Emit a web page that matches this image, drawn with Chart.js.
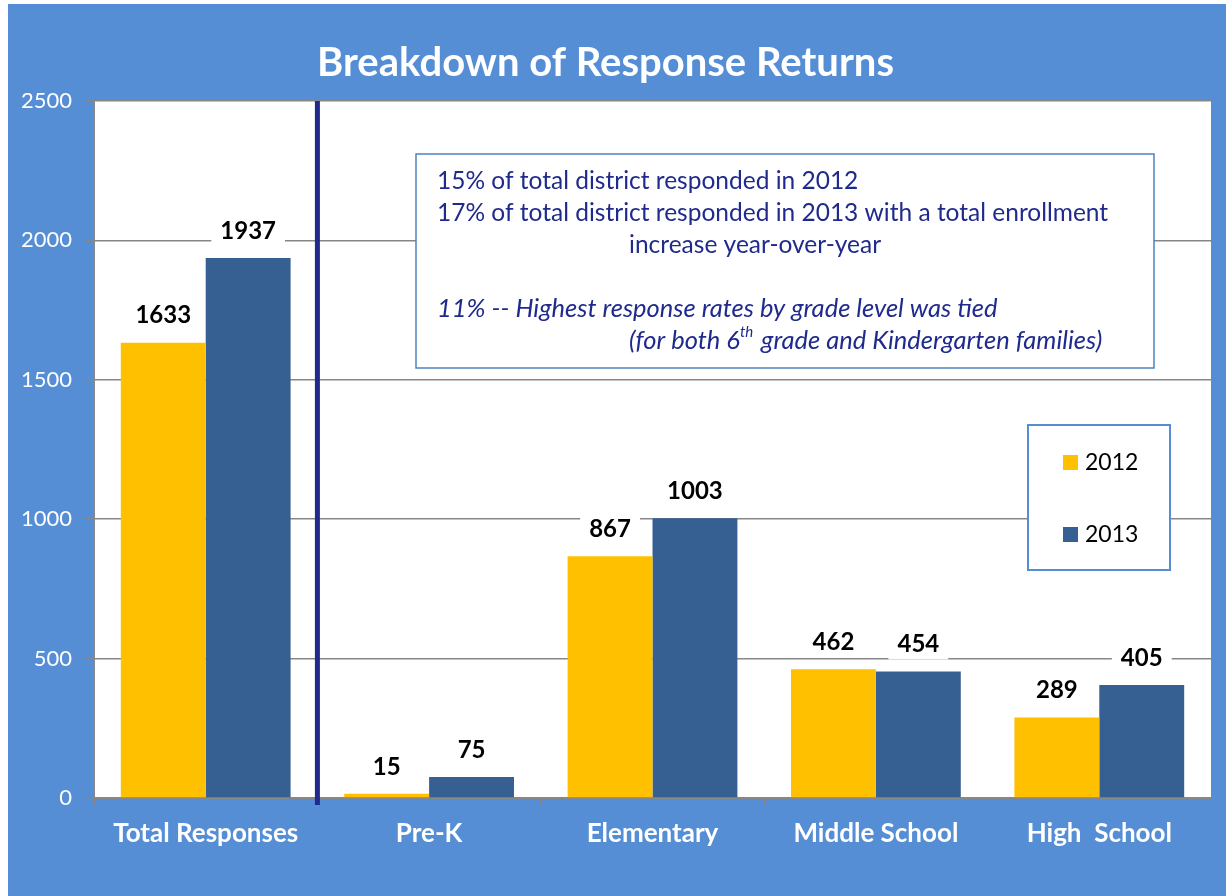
<!DOCTYPE html>
<html>
<head>
<meta charset="utf-8">
<script src="https://cdn.jsdelivr.net/npm/chart.js@4"></script>
<style>
html,body{margin:0;padding:0;background:#ffffff;}
#wrap{width:1226px;height:896px;position:relative;}
</style>
</head>
<body>
<div id="wrap"><canvas id="c" width="1226" height="896"></canvas></div>
<script>
const categories = ["Total Responses", "Pre-K", "Elementary", "Middle School", "High  School"];
const values2012 = [1633, 15, 867, 462, 289];
const values2013 = [1937, 75, 1003, 454, 405];
const seriesLabels = ["2012", "2013"];
const yTicks = [0, 500, 1000, 1500, 2000, 2500];
const chartTitle = "Breakdown of Response Returns";
const noteLines = [
  {text: "15% of total district responded in 2012", italic: false, indent: false},
  {text: "17% of total district responded in 2013 with a total enrollment", italic: false, indent: false},
  {text: "increase year-over-year", italic: false, indent: true},
  {text: "", italic: false, indent: false},
  {text: "11% -- Highest response rates by grade level was tied", italic: true, indent: false},
  {text: "(for both 6|th| grade and Kindergarten families)", italic: true, indent: true}
];

const FONT = "Lato, 'Open Sans', sans-serif";
const BG = "#558ED5";
const YELLOW = "#FFC000";
const BLUE = "#376092";
const NAVY = "#1F2A8C";
const GRID = "#878787";

const decor = {
  id: "decor",
  beforeDraw(chart) {
    const ctx = chart.ctx, a = chart.chartArea;
    ctx.save();
    ctx.fillStyle = "#ffffff";
    ctx.fillRect(0, 0, chart.width, chart.height);
    ctx.fillStyle = BG;
    ctx.fillRect(8, 4, chart.width - 8, chart.height - 4);
    ctx.fillStyle = "#ffffff";
    ctx.fillRect(a.left, a.top, a.right - a.left, a.bottom - a.top);
    ctx.restore();
  },
  afterDraw(chart) {
    const ctx = chart.ctx, a = chart.chartArea;
    const xs = chart.scales.x;
    ctx.save();
    // data labels
    ctx.font = "bold 24px " + FONT;
    ctx.textAlign = "center";
    ctx.textBaseline = "middle";
    chart.data.datasets.forEach((ds, di) => {
      chart.getDatasetMeta(di).data.forEach((bar, i) => {
        const txt = String(ds.data[i]);
        const w = ctx.measureText(txt).width + 18;
        const cy = bar.y - 27;
        ctx.fillStyle = "#ffffff";
        ctx.fillRect(bar.x - w / 2, cy - 15, w, 30);
        ctx.fillStyle = "#000000";
        ctx.fillText(txt, bar.x, cy);
      });
    });
    // vertical separator between first and second category
    const sepX = (xs.getPixelForValue(0) + xs.getPixelForValue(1)) / 2;
    ctx.fillStyle = NAVY;
    ctx.fillRect(sepX - 2.5, a.top, 5, a.bottom - a.top + 7);

    // annotation box
    const bx = 416, by = 154, bw = 738, bh = 214;
    ctx.fillStyle = "#ffffff";
    ctx.fillRect(bx, by, bw, bh);
    ctx.strokeStyle = "#4F81BD";
    ctx.lineWidth = 1.5;
    ctx.strokeRect(bx, by, bw, bh);
    ctx.textAlign = "left";
    ctx.textBaseline = "middle";
    ctx.fillStyle = "#1F2A8C";
    noteLines.forEach((ln, k) => {
      if (!ln.text) return;
      const y = 181 + k * 32;
      let x = ln.indent ? 629 : 437;
      const style = ln.italic ? "italic " : "";
      const size = ln.italic ? 25.5 : 24.5;
      const parts = ln.text.split("|");
      parts.forEach((p, pi) => {
        if (pi % 2 === 1) {
          ctx.font = style + "15px " + FONT;
          ctx.fillText(p, x, y - 9);
          x += ctx.measureText(p).width + 2;
        } else {
          ctx.font = style + size + "px " + FONT;
          ctx.fillText(p, x, y);
          x += ctx.measureText(p).width;
        }
      });
    });

    // legend box
    const lx = 1028, ly = 425, lw = 142, lh = 145;
    ctx.fillStyle = "#ffffff";
    ctx.fillRect(lx, ly, lw, lh);
    ctx.strokeStyle = "#558ED5";
    ctx.lineWidth = 2;
    ctx.strokeRect(lx, ly, lw, lh);
    ctx.font = "23px " + FONT;
    chart.data.datasets.forEach((ds, di) => {
      const cy = 462 + di * 72;
      ctx.fillStyle = ds.backgroundColor;
      ctx.fillRect(1063, cy - 7, 15, 15);
      ctx.fillStyle = "#000000";
      ctx.fillText(ds.label, 1085, cy + 1);
    });
    ctx.restore();
  }
};

new Chart(document.getElementById("c"), {
  type: "bar",
  data: {
    labels: categories,
    datasets: [
      {label: seriesLabels[0], data: values2012, backgroundColor: YELLOW, categoryPercentage: 0.76, barPercentage: 1.0},
      {label: seriesLabels[1], data: values2013, backgroundColor: BLUE, categoryPercentage: 0.76, barPercentage: 1.0}
    ]
  },
  options: {
    responsive: false,
    animation: false,
    devicePixelRatio: 1,
    layout: {padding: {left: 0, right: 15, top: 0, bottom: 0}},
    plugins: {
      legend: {display: false},
      tooltip: {enabled: false},
      title: {
        display: true,
        text: chartTitle,
        color: "#ffffff",
        font: {family: FONT, size: 40, weight: "bold"},
        padding: {top: 39, bottom: 14}
      }
    },
    scales: {
      x: {
        grid: {display: true, drawOnChartArea: false, drawTicks: true, tickLength: 8, color: GRID, offset: true},
        border: {display: true, color: GRID, width: 2},
        ticks: {color: "#ffffff", font: {family: FONT, size: 26, weight: "bold"}, padding: 12},
        afterFit(scale) { scale.height = 98; }
      },
      y: {
        min: 0, max: 2500,
        afterBuildTicks(scale) { scale.ticks = yTicks.map(v => ({value: v})); },
        grid: {color: GRID, lineWidth: 1.5, tickLength: 8},
        border: {display: true, color: GRID, width: 2},
        ticks: {color: "#ffffff", font: {family: FONT, size: 22}, padding: 14, callback: v => String(v)},
        afterFit(scale) { scale.width = 94; }
      }
    }
  },
  plugins: [decor]
});
</script>
</body>
</html>
